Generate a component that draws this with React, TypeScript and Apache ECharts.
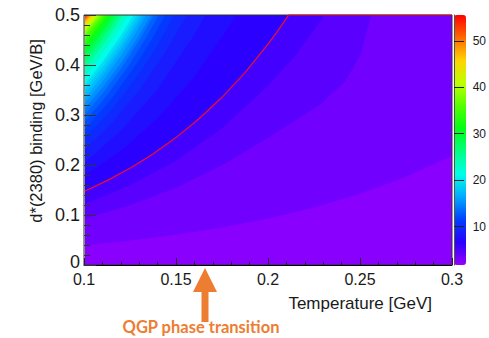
import React, { useEffect, useRef } from "react";
import * as echarts from "echarts";

// ---- axes ----
const xRange = [0.1, 0.3];
const yRange = [0, 0.5];
const zRange = [1.7, 55.6];
const colorbarTicks = [10, 20, 30, 40, 50];

// ---- contour paths [temperature, binding] ----
const c1_70 = [[0.1, 0], [0.3, 0]];
const c2_78 = [[0.1, 0.04], [0.125, 0.0495], [0.15, 0.0612], [0.175, 0.0757], [0.2, 0.0936], [0.225, 0.1157], [0.25, 0.1431], [0.275, 0.1771], [0.3, 0.219]];
const c3_86 = [[0.1, 0.093], [0.125, 0.12], [0.15, 0.155], [0.175, 0.2], [0.2, 0.255], [0.2286, 0.322], [0.242, 0.368], [0.25, 0.42], [0.256, 0.5]];
const c4_93 = [[0.1, 0.122], [0.125, 0.16], [0.15, 0.209], [0.175, 0.274], [0.2, 0.359], [0.215, 0.42], [0.2306, 0.5]];
const redContour = [[0.1, 0.147], [0.1125, 0.1687], [0.125, 0.1935], [0.1375, 0.2221], [0.15, 0.2548], [0.1625, 0.2924], [0.175, 0.3354], [0.1875, 0.3849], [0.2, 0.4416], [0.205, 0.4666], [0.2105, 0.4957], [0.211, 0.5], [0.3, 0.5]];
const c7_09 = [[0.1, 0.178], [0.12, 0.2286], [0.14, 0.2935], [0.16, 0.3768], [0.18, 0.4839], [0.1826, 0.5]];
const c8_17 = [[0.1, 0.205], [0.12, 0.2685], [0.14, 0.3518], [0.16, 0.4608], [0.166, 0.5]];
const c9_25 = [[0.1, 0.23], [0.115, 0.2838], [0.13, 0.35], [0.145, 0.432], [0.1555, 0.5]];
const c10_32 = [[0.1, 0.252], [0.115, 0.3109], [0.13, 0.3836], [0.14, 0.4412], [0.1489, 0.5]];
const c11_40 = [[0.1, 0.27], [0.115, 0.3331], [0.13, 0.411], [0.1375, 0.456], [0.144, 0.5]];
const c12_48 = [[0.1, 0.286], [0.112, 0.3375], [0.124, 0.3983], [0.134, 0.4572], [0.1405, 0.5]];
const c13_56 = [[0.1, 0.3], [0.11, 0.3434], [0.12, 0.393], [0.13, 0.4498], [0.1378, 0.5]];
const c14_64 = [[0.1, 0.312], [0.11, 0.3553], [0.12, 0.4047], [0.128, 0.449], [0.1363, 0.5]];
const c15_71 = [[0.1, 0.323], [0.11, 0.3678], [0.12, 0.4189], [0.128, 0.4648], [0.1336, 0.5]];
const c16_79 = [[0.1, 0.333], [0.11, 0.3785], [0.12, 0.4302], [0.126, 0.4645], [0.1318, 0.5]];
const c17_87 = [[0.1, 0.342], [0.11, 0.3875], [0.12, 0.4391], [0.125, 0.4674], [0.1304, 0.5]];
const c18_95 = [[0.1, 0.351], [0.11, 0.397], [0.12, 0.4489], [0.1288, 0.5]];
const c20_03 = [[0.1, 0.36], [0.11, 0.4067], [0.12, 0.4595], [0.1269, 0.5]];
const c22_18 = [[0.1, 0.376], [0.11, 0.4239], [0.12, 0.478], [0.12375, 0.5]];
const c24_34 = [[0.1, 0.391], [0.11, 0.44], [0.116, 0.4723], [0.1208, 0.5]];
const c26_49 = [[0.1, 0.405], [0.108, 0.4433], [0.114, 0.4744], [0.1186, 0.5]];
const c28_65 = [[0.1, 0.418], [0.106, 0.4465], [0.112, 0.477], [0.1163, 0.5]];
const c30_81 = [[0.1, 0.43], [0.106, 0.458], [0.11, 0.4776], [0.1144, 0.5]];
const c32_96 = [[0.1, 0.441], [0.106, 0.4688], [0.1123, 0.5]];
const c35_10 = [[0.1, 0.451], [0.105, 0.4732], [0.1107, 0.5]];
const c37_30 = [[0.1, 0.459], [0.104, 0.4766], [0.1091, 0.5]];
const c39_40 = [[0.1, 0.466], [0.104, 0.4835], [0.1077, 0.5]];
const c41_60 = [[0.1, 0.472], [0.103, 0.4849], [0.1064, 0.5]];
const c43_70 = [[0.1, 0.477], [0.103, 0.4895], [0.1055, 0.5]];
const c45_90 = [[0.1, 0.482], [0.102, 0.49], [0.1044, 0.5]];
const c48_10 = [[0.1, 0.486], [0.1017, 0.4928], [0.1035, 0.5]];
const c50_20 = [[0.1, 0.49], [0.1013, 0.495], [0.1025, 0.5]];
const c52_40 = [[0.1, 0.494], [0.1015, 0.5]];
const c54_50 = [[0.1, 0.4985], [0.1004, 0.5]];

const contourLevels = [1.7, 2.78, 3.86, 4.93, 6.01, 7.09, 8.17, 9.25, 10.32, 11.4, 12.48, 13.56, 14.64, 15.71, 16.79, 17.87, 18.95, 20.03, 22.18, 24.34, 26.49, 28.65, 30.81, 32.96, 35.1, 37.3, 39.4, 41.6, 43.7, 45.9, 48.1, 50.2, 52.4, 54.5];
const contourPaths = [c1_70, c2_78, c3_86, c4_93, redContour, c7_09, c8_17, c9_25, c10_32, c11_40, c12_48, c13_56, c14_64, c15_71, c16_79, c17_87, c18_95, c20_03, c22_18, c24_34, c26_49, c28_65, c30_81, c32_96, c35_10, c37_30, c39_40, c41_60, c43_70, c45_90, c48_10, c50_20, c52_40, c54_50];

const palette = ["#9500ff", "#2a00ff", "#0040ff", "#00aaff", "#00ffea", "#00ff80", "#00ff15", "#55ff00", "#bfff00", "#ffd400", "#ff6a00", "#ff0000"];

const FONT = '"Liberation Sans", Arial, Helvetica, sans-serif';
const ORANGE = "#ED7D31";

function buildOption() {
  const bandData = contourLevels.map((lv, i) => {
    const next = i + 1 < contourLevels.length ? contourLevels[i + 1] : zRange[1];
    return [xRange[0], yRange[0], (lv + next) / 2, i];
  });

  return {
    animation: false,
    backgroundColor: "#fff",
    grid: [
      { left: 84, right: 37, top: 15, bottom: 73, show: true, borderColor: "#333", borderWidth: 1, backgroundColor: "transparent", z: 4 },
      { left: 454, top: 15, width: 12, height: 250, show: false },
    ],
    xAxis: [
      {
        type: "value", gridIndex: 0, min: xRange[0], max: xRange[1], interval: 0.05, z: 10,
        axisLine: { show: true, onZero: false, lineStyle: { color: "#000", width: 1 } },
        axisTick: { show: true, inside: true, length: 7, lineStyle: { color: "#222" } },
        minorTick: { show: true, splitNumber: 5, length: 3.5, lineStyle: { color: "#222" } },
        splitLine: { show: false },
        axisLabel: { margin: 6, fontSize: 16, fontFamily: FONT, color: "#1a1a1a", formatter: (v: number) => String(parseFloat(v.toFixed(2))) },
      },
      { type: "value", gridIndex: 1, show: false, min: 0, max: 1 },
    ],
    yAxis: [
      {
        type: "value", gridIndex: 0, min: yRange[0], max: yRange[1], interval: 0.1, z: 10,
        axisLine: { show: true, onZero: false, lineStyle: { color: "#888", width: 1 } },
        axisTick: { show: true, inside: true, length: 12, lineStyle: { color: "#333" } },
        minorTick: { show: true, splitNumber: 5, length: 6, lineStyle: { color: "#333" } },
        splitLine: { show: false },
        axisLabel: {
          margin: 4, fontSize: 18, fontFamily: FONT, color: "#1a1a1a",
          formatter: (v: number) => (v === 0 ? "{z|0}" : String(parseFloat(v.toFixed(2)))),
          rich: { z: { fontSize: 18, fontFamily: FONT, color: "#1a1a1a", padding: [0, 0, 7, 0] } },
        },
      },
      {
        type: "value", gridIndex: 1, position: "right", min: zRange[0], max: zRange[1], z: 10,
        axisLine: { show: true, lineStyle: { color: "#555" } },
        axisTick: { show: true, inside: false, length: 10, customValues: colorbarTicks, lineStyle: { color: "#222" } },
        splitLine: { show: false },
        axisLabel: { margin: 11, fontSize: 12, fontFamily: FONT, color: "#1a1a1a", customValues: colorbarTicks },
      },
    ],
    visualMap: {
      type: "continuous",
      min: zRange[0],
      max: zRange[1],
      dimension: 2,
      seriesIndex: 0,
      left: 454,
      top: 15,
      itemWidth: 12,
      itemHeight: 250,
      padding: 0,
      calculable: false,
      hoverLink: false,
      inRange: { color: palette },
    },
    series: [
      {
        type: "custom",
        xAxisIndex: 0,
        yAxisIndex: 0,
        clip: true,
        encode: { x: 0, y: 1 },
        data: bandData,
        renderItem: (params: any, api: any) => {
          const idx = api.value(3);
          const path = contourPaths[idx];
          const last = path[path.length - 1];
          const pts = path.map((p) => api.coord(p));
          pts.push(api.coord([last[0], yRange[1]]));
          pts.push(api.coord([xRange[0], yRange[1]]));
          const col = api.visual("color");
          return {
            type: "polygon",
            shape: { points: pts },
            style: { fill: col, stroke: col, lineWidth: 0.6 },
          };
        },
      },
      {
        type: "line",
        xAxisIndex: 0,
        yAxisIndex: 0,
        data: redContour,
        showSymbol: false,
        symbol: "none",
        clip: false,
        z: 6,
        lineStyle: { color: "#f0102a", width: 1.2 },
      },
    ],
    graphic: [
      {
        type: "text", x: 432, y: 303, z: 20,
        style: { text: "Temperature [GeV]", font: `17px ${FONT}`, fill: "#1a1a1a", textAlign: "right", textVerticalAlign: "middle", align: "right", verticalAlign: "middle" },
      },
      {
        type: "text", x: 36, y: 131, rotation: Math.PI / 2, z: 20,
        style: { text: "d*(2380) binding [GeV/B]", font: `16.5px ${FONT}`, fill: "#1a1a1a", textAlign: "center", textVerticalAlign: "middle", align: "center", verticalAlign: "middle" },
      },
      {
        type: "polygon", z: 20,
        shape: { points: [[205, 268], [217, 292], [208.5, 292], [208.5, 322], [201.5, 322], [201.5, 292], [193, 292]] },
        style: { fill: ORANGE },
      },
      {
        type: "text", x: 201, y: 327, z: 20,
        style: { text: "QGP phase transition", font: `bold 16.5px Lato, "Open Sans", sans-serif`, fill: ORANGE, textAlign: "center", textVerticalAlign: "middle", align: "center", verticalAlign: "middle" },
      },
    ],
  };
}

export default function App() {
  const ref = useRef<HTMLDivElement>(null);
  useEffect(() => {
    const chart = echarts.init(ref.current as HTMLDivElement, null, { renderer: "svg" });
    chart.setOption(buildOption() as any);
    return () => chart.dispose();
  }, []);
  return (
    <div
      ref={ref}
      style={{ position: "absolute", left: 0, top: 0, width: 489, height: 338, background: "#fff" }}
    />
  );
}
